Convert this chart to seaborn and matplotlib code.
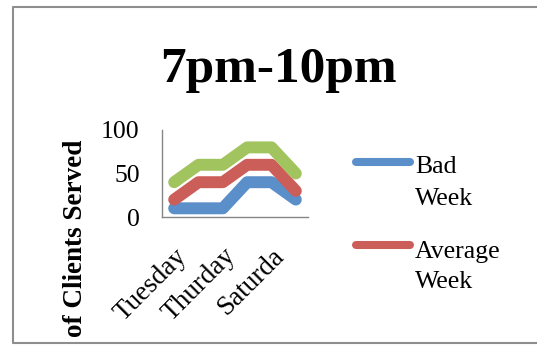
import pandas as pd
import matplotlib.pyplot as plt
import seaborn as sns
from matplotlib.lines import Line2D

# chart data
days = ["Tuesday", "Wednesday", "Thurday", "Friday", "Saturda", "Sunday"]
bad_week = [10, 10, 10, 40, 40, 20]
average_week = [20, 40, 40, 60, 60, 30]
good_week = [40, 60, 60, 80, 80, 50]
series_names = ["Bad Week", "Average Week", "Good Week"]
colors = ["#5A8FCA", "#CC5E59", "#A2C45F"]
shown_days = ["Tuesday", "Thurday", "Saturda"]
y_ticks = [0, 50, 100]

df = pd.DataFrame({
    "day": days * 3,
    "clients": bad_week + average_week + good_week,
    "series": [n for n in series_names for _ in days],
})

sns.set_style("white")
plt.rcParams['font.family'] = ['Liberation Serif', 'DejaVu Serif']
plt.rcParams['text.color'] = 'black'
plt.rcParams['xtick.color'] = 'black'
plt.rcParams['ytick.color'] = 'black'

W, H = 537, 345
fig = plt.figure(figsize=(W / 100, H / 100), dpi=100)


def fx(px):
    return px / W


def fy(py):
    return 1 - py / H


ax = fig.add_axes([fx(162), fy(217), fx(308) - fx(162), fy(130) - fy(217)])
sns.lineplot(data=df, x="day", y="clients", hue="series", palette=colors,
             linewidth=8.6, solid_capstyle="round", solid_joinstyle="round",
             legend=False, sort=False, clip_on=False, ax=ax)

ax.set_xlim(-0.5, len(days) - 0.5)
ax.set_ylim(0, 100)
ax.set_xticks([days.index(d) for d in shown_days])
ax.set_xticklabels(shown_days, rotation=45, ha="right", va="top",
                   rotation_mode="anchor", fontsize=19.5)
ax.set_yticks(y_ticks)
ax.set_yticklabels([str(t) for t in y_ticks], fontsize=18.5)
ax.tick_params(axis="x", length=0, pad=19)
ax.tick_params(axis="y", length=0, pad=16)
ax.set_xlabel("")
ax.set_ylabel("")
for s in ["top", "right"]:
    ax.spines[s].set_visible(False)
for s in ["left", "bottom"]:
    ax.spines[s].set_color("#868686")
    ax.spines[s].set_linewidth(1)

# title and axis title
fig.text(fx(278), fy(82), "7pm-10pm", fontsize=37, fontweight="bold",
         ha="center", va="baseline")
fig.text(fx(75), fy(238), "of Clients Served", rotation=90, fontsize=19.5,
         fontweight="bold", ha="center", va="center")

# legend (Excel style, handle beside first line of text)
legend_rows = [(162, 173, 205, "Bad", "Week"), (245, 258, 288, "Average", "Week")]
for (hy, b1, b2, t1, t2), c in zip(legend_rows, colors):
    fig.add_artist(Line2D([fx(356), fx(410)], [fy(hy), fy(hy)], color=c, lw=5.8,
                          solid_capstyle="round", transform=fig.transFigure))
    fig.text(fx(415), fy(b1), t1, fontsize=18.5, va="baseline")
    fig.text(fx(415), fy(b2), t2, fontsize=18.5, va="baseline")

# chart frame: top, left and bottom edges (right edge is off the picture)
fig.add_artist(Line2D([fx(W), fx(13), fx(13), fx(W)], [fy(7), fy(7), fy(343), fy(343)],
                      color="#8E8E8E", lw=1.5, transform=fig.transFigure))

plt.savefig("out.png", dpi=100)
